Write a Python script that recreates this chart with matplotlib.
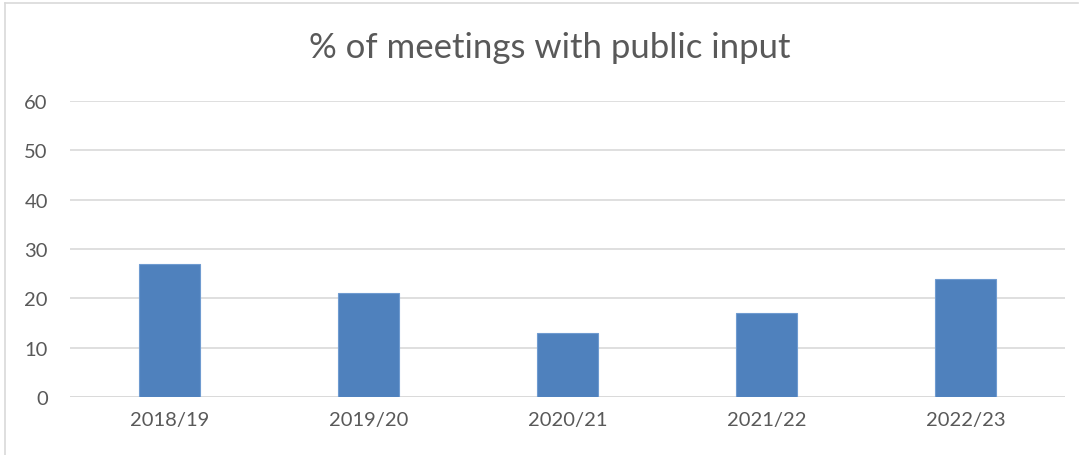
import matplotlib
matplotlib.use('Agg')
import matplotlib.pyplot as plt
from matplotlib.lines import Line2D

# DATA

years = ['2018/19', '2019/20', '2020/21', '2021/22', '2022/23']
pct_public_input = [27, 21, 13, 17, 24]
y_ticks = [0, 10, 20, 30, 40, 50, 60]

# PLOT

plt.rcParams['font.family'] = ['Lato', 'DejaVu Sans']
grey_text = '#595959'
grid_col = '#D9D9D9'

W, H = 1087, 456
fig = plt.figure(figsize=(W/100, H/100), dpi=100)
ax = fig.add_axes([70/W, 1 - 398/H, (1065 - 70)/W, (398 - 102)/H])

x = list(range(len(years)))
ax.bar(x, pct_public_input, width=0.31, color='#4F81BD', edgecolor='#6F9BD0', linewidth=0.8, zorder=3)

ax.set_xlim(-0.5, len(years) - 0.5)
ax.set_ylim(0, 60)
ax.set_yticks(y_ticks)
ax.set_xticks(x)
ax.set_xticklabels(years)
ax.yaxis.grid(True, color=grid_col, linewidth=1.2, zorder=0)
for s in ax.spines.values():
    s.set_visible(False)
ax.axhline(0, color=grid_col, linewidth=1.2, zorder=2)
ax.tick_params(axis='both', length=0, labelsize=14.5, colors=grey_text)
ax.tick_params(axis='y', pad=16)
ax.tick_params(axis='x', pad=10)

fig.text(0.506, 1 - 48/H, '% of meetings with public input', ha='center', va='center',
         fontsize=25, color=grey_text)

# chart border (left and top edges only are visible in the crop)
fig.lines.append(Line2D([5/W, 5/W], [0, 1 - 4/H], transform=fig.transFigure, color=grid_col, lw=1.2))
fig.lines.append(Line2D([5/W, 1078/W], [1 - 4/H, 1 - 4/H], transform=fig.transFigure, color=grid_col, lw=1.2))

fig.savefig('out.png', dpi=100)
